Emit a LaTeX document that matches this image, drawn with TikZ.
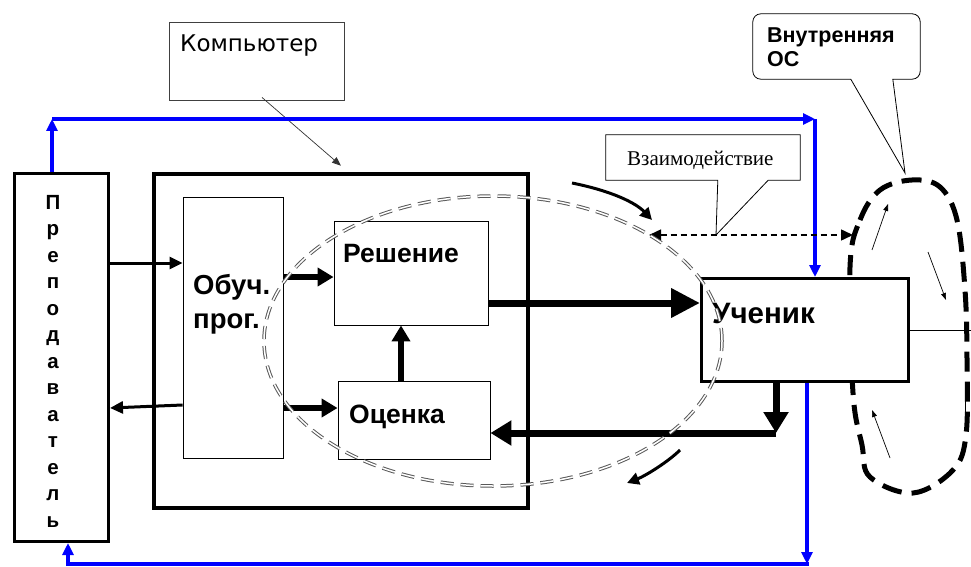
\documentclass[tikz,border=0pt]{standalone}
\usepackage{fontspec}
\setmainfont{Liberation Sans}
\newfontfamily\timesru{Liberation Serif}
\newfontfamily\vera{DejaVu Sans}
\usetikzlibrary{arrows.meta,calc}

\begin{document}
\begin{tikzpicture}[x=1pt,y=-1pt,
    thinbox/.style={draw, line width=0.9pt, inner sep=0pt},
    thickbox/.style={draw, line width=3pt, fill=white, inner sep=0pt},
    boxtext/.style={anchor=base west, inner sep=0pt, font=\bfseries\fontsize{26.5}{30}\selectfont},
    feedback/.style={draw=blue, line width=4pt},
    bluetip/.style={-{Triangle[length=12pt,width=11pt]}},
    thinarrow/.style={line width=3pt, -{Triangle[length=13pt,width=12pt]}},
    midarrow/.style={line width=5.5pt, -{Triangle[length=16pt,width=18pt]}},
    fatarrow/.style={line width=7pt, -{Triangle[length=21pt,width=24pt]}},
    loopline/.style={line width=5pt, dash pattern=on 20pt off 10pt},
    looparrow/.style={line width=0.7pt, -{Triangle[length=7pt,width=5pt]}},
  ]

  % page size as in the original slide
  \useasboundingbox (0,0) rectangle (971,567);

  % Teacher column
  \node[thickbox, minimum width=94pt, minimum height=368pt] (prep) at (61.5,357.5) {};
  \node[align=center, inner sep=0pt, font=\bfseries\fontsize{20.5}{26.5}\selectfont] (preptext) at (53,361)
    {П\\р\\е\\п\\о\\д\\а\\в\\а\\т\\е\\л\\ь};

  % Computer with the teaching program
  \node[draw, line width=4.5pt, inner sep=0pt, minimum width=374pt, minimum height=334pt] (comp) at (341,341) {};
  \node[thinbox, minimum width=100pt, minimum height=261pt] (obuch) at (233,327.5) {};
  \node[anchor=north west, align=left, inner sep=0pt, font=\bfseries\fontsize{27.5}{34}\selectfont] (obuchtext) at (193,274)
    {Обуч.\\прог.};
  \node[thinbox, minimum width=154pt, minimum height=104pt] (resh) at (411,273) {};
  \node[boxtext] (reshtext) at (343,262) {Решение};
  \node[thinbox, minimum width=152pt, minimum height=78pt] (ocenka) at (414,420) {};
  \node[boxtext] (ocenkatext) at (349,423) {Оценка};

  % callout of the computer
  \node[thinbox, draw=black!75, minimum width=175pt, minimum height=78pt] (komp) at (256.5,61) {};
  \node[anchor=base west, inner sep=0pt, font=\vera\fontsize{23}{27}\selectfont] (komptext) at (180,52) {Компьютер};
  \draw[line width=0.7pt, black!80, -{Triangle[length=9pt,width=7pt]}] ([xshift=5.5pt,yshift=3pt]komp.south) -- ([yshift=6pt]comp.north);

  % inner loop of the learner (lies under the learner box)
  \draw[looparrow] (872,250) -- (888,204);
  \draw[looparrow] (928,252) -- (946,300);
  \draw[looparrow] (890,458) -- (872,410);
  \draw[line width=0.7pt] (965,398) -- (965,428);
  \draw[loopline] plot[smooth cycle, tension=0.6] coordinates
    {(850,267) (860,220) (880,190) (912,180) (940,187) (957,220) (965,290) (967,360)
     (966,435) (953,470) (913,493) (870,477) (862,445) (853,393)};

  % learner
  \node[thickbox, minimum width=207pt, minimum height=103pt] (uchenik) at (805,330) {};
  \node[anchor=base west, inner sep=0pt, font=\bfseries\fontsize{29.5}{33}\selectfont] (uchtext) at (712,323) {Ученик};
  \draw[line width=0.8pt] (uchenik.east) -- ++(61,0);

  % main arrows
  \draw[thinarrow] (prep.east |- 0,263) -- (obuch.west |- 0,263);
  \draw[thinarrow] (obuch.west |- 0,405) -- (prep.east |- 0,408);
  \draw[midarrow] (obuch.east |- 0,277) -- (resh.west |- 0,277);
  \draw[midarrow] (obuch.east |- 0,408) -- (ocenka.west |- 0,408);
  \draw[midarrow] (ocenka.north -| 401,0) -- (resh.south -| 401,0);
  \draw[fatarrow, -{Triangle[length=29pt,width=28pt]}] (resh.east |- 0,303) -- (uchenik.west |- 0,303);
  \coordinate (back) at (776,433);
  \draw[fatarrow] (uchenik.south -| back) -- (back);
  \draw[fatarrow] (back) -- (ocenka.east |- back);

  % blue feedback lines
  \coordinate (tl) at (52,119);
  \coordinate (tr) at (815,119);
  \coordinate (br) at (807,564);
  \coordinate (bl) at (68,564);
  \draw[feedback, bluetip] (tl |- prep.north) -- (tl);
  \draw[feedback, bluetip] (tl) -- (tr);
  \draw[feedback, bluetip] (tr) -- (tr |- uchenik.north);
  \draw[feedback, bluetip] (br |- uchenik.south) -- (br);
  \draw[feedback, line cap=rect] (br) -- (bl);
  \draw[feedback, bluetip] (bl) -- (bl |- prep.south);

  % interaction callout
  \node[inner sep=0pt, minimum width=194pt, minimum height=45pt] (vzaim) at (703,157.5) {};
  \node[anchor=base west, inner sep=0pt, font=\timesru\fontsize{21}{25}\selectfont] (vzaimtext) at (627,165) {Взаимодействие};
  \coordinate (vztip) at (716,235);
  \draw[line width=0.8pt] (vzaim.south west) -- (vzaim.north west) -- (vzaim.north east) -- (vzaim.south east)
    -- ($(vzaim.south east)+(-32,0)$) -- (vztip) -- ($(vzaim.south west)+(112,0)$) -- cycle;
  \coordinate (ia) at (649,235);
  \coordinate (ib) at (853,235);
  \draw[line width=1.5pt, dash pattern=on 6pt off 4pt, {Triangle[length=12pt,width=11pt]}-{Triangle[length=12pt,width=11pt]}] (ia) -- (ib);

  % inner feedback callout
  \node[inner sep=0pt, minimum width=167pt, minimum height=65pt] (osbox) at (836.5,46.5) {};
  \node[anchor=north west, align=left, inner sep=0pt, font=\bfseries\fontsize{21.5}{24}\selectfont] (ostext) at (767,28)
    {Внутренняя\\ОС};
  \coordinate (ostip) at (905,173);
  \draw[line width=0.8pt] ($(osbox.south west)+(98,0)$) [rounded corners=8pt] -- (osbox.south west) -- (osbox.north west)
    -- (osbox.north east) -- (osbox.south east) [sharp corners] -- ($(osbox.south west)+(140,0)$) -- (ostip) -- cycle;

  % circulation arrows along the loop
  \coordinate (ca1) at (572,183);
  \coordinate (ca2) at (652,220);
  \coordinate (cb1) at (680,450);
  \coordinate (cb2) at (627,483);
  \draw[line width=3pt, -{Triangle[length=12pt,width=12pt]}] (ca1) .. controls (612,191) and (636,203) .. (ca2);
  \draw[line width=3pt, -{Triangle[length=12pt,width=12pt]}] (cb1) .. controls (668,462) and (645,476) .. (cb2);

  % double dashed loop around the computer part
  \draw[black!65, line width=1pt, double=white, double distance=1.5pt, dash pattern=on 13pt off 7pt]
    (493,341) ellipse [x radius=229pt, y radius=145pt];

\end{tikzpicture}
\end{document}
